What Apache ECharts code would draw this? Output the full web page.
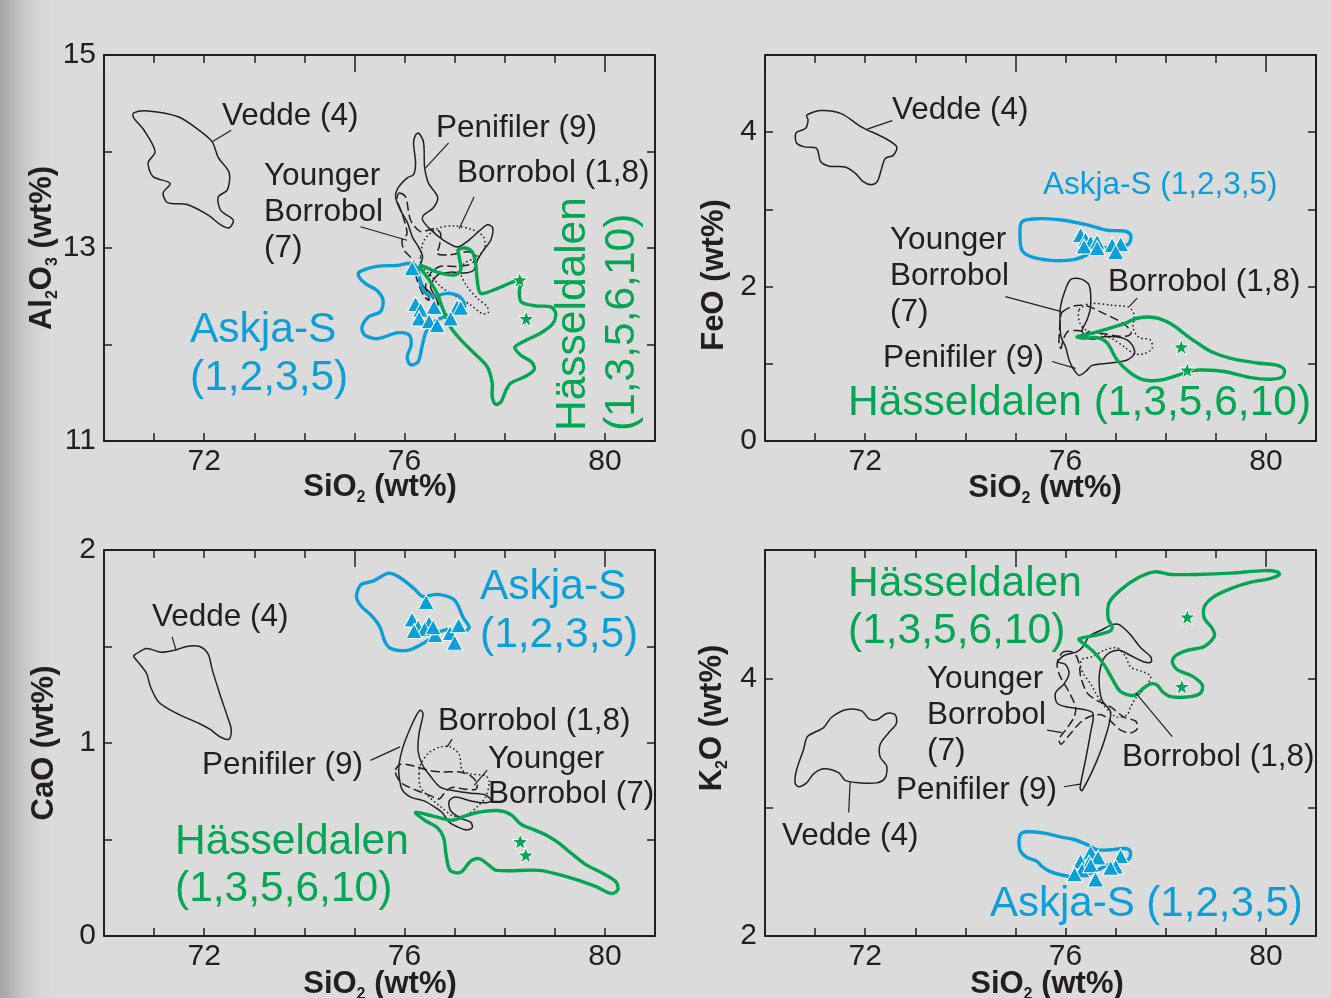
<!DOCTYPE html>
<html>
<head>
<meta charset="utf-8">
<script src="https://cdn.jsdelivr.net/npm/echarts@6.0.0/dist/echarts.min.js"></script>
<style>
  html, body { margin: 0; padding: 0; width: 1331px; height: 998px; overflow: hidden;
    background: linear-gradient(to right, #a6a6a6 0px, #b2b2b2 10px, #c8c8c8 24px, #d5d5d5 38px, #dbdbdb 52px, #dbdbdb 100%); }
  #chart { width: 1331px; height: 998px; }
</style>
</head>
<body>
<div id="chart"></div>
<script>
// ---- tick labels ----
const siTicks = [72, 76, 80];
const alTicks = [11, 13, 15];
const feTicks = [0, 2, 4];
const caTicks = [0, 1, 2];
const kTicks = [2, 4];

// ---- Al2O3 vs SiO2 (wt%) ----
const alVedde = [[70.59,14.40],[70.88,14.42],[71.48,14.36],[71.90,14.22],[72.16,14.10],[72.28,13.94],[72.50,13.78],[72.46,13.60],[72.28,13.53],[72.33,13.39],[72.58,13.29],[72.50,13.21],[72.33,13.24],[72.08,13.34],[71.66,13.45],[71.27,13.47],[71.18,13.57],[71.32,13.67],[70.98,13.74],[70.88,13.88],[71.02,14.00],[70.80,14.22],[70.59,14.35]];
const alPenifiler = [[76.28,14.19],[76.38,14.09],[76.40,13.84],[76.48,13.67],[76.66,13.53],[76.58,13.42],[76.38,13.34],[76.36,13.29],[76.52,13.19],[76.78,13.08],[77.06,13.01],[77.28,13.08],[77.52,13.19],[77.66,13.24],[77.76,13.21],[77.72,13.08],[77.58,12.98],[77.46,12.88],[77.38,12.77],[77.18,12.74],[76.92,12.75],[76.66,12.72],[76.52,12.60],[76.62,12.49],[76.68,12.41],[76.62,12.43],[76.52,12.53],[76.38,12.60],[76.32,12.67],[76.28,12.77],[76.36,12.91],[76.28,13.01],[76.16,13.11],[76.06,13.26],[75.92,13.39],[75.82,13.53],[75.88,13.63],[76.06,13.73],[76.18,13.76],[76.22,13.88],[76.18,14.09],[76.22,14.17]];
const alYounger = [[75.89,13.57],[76.02,13.53],[76.12,13.29],[76.32,13.17],[76.59,13.20],[76.72,13.15],[76.69,13.01],[76.65,12.94],[76.92,12.93],[77.25,12.96],[77.42,12.93],[77.35,12.84],[77.05,12.81],[76.72,12.81],[76.52,12.74],[76.42,12.60],[76.49,12.46],[76.39,12.50],[76.25,12.67],[76.15,12.88],[75.99,12.98],[75.95,13.08],[76.05,13.15],[75.95,13.36],[75.85,13.50]];
const alBorrobol = [[76.32,12.91],[76.39,13.08],[76.65,13.20],[76.99,13.23],[77.35,13.19],[77.57,13.12],[77.60,13.00],[77.45,12.91],[77.19,12.84],[77.12,12.74],[77.25,12.60],[77.45,12.48],[77.65,12.39],[77.67,12.33],[77.55,12.32],[77.32,12.41],[76.99,12.51],[76.72,12.60],[76.55,12.70],[76.35,12.81]];
const alAskja = [[75.09,12.75],[75.45,12.81],[75.85,12.82],[76.15,12.84],[76.27,12.77],[76.31,12.65],[76.39,12.55],[76.55,12.50],[76.85,12.53],[77.09,12.50],[77.20,12.41],[77.13,12.33],[76.85,12.30],[76.55,12.22],[76.42,12.12],[76.35,11.98],[76.27,11.82],[76.12,11.79],[76.05,11.87],[76.13,11.99],[76.09,12.10],[75.85,12.12],[75.45,12.06],[75.20,12.10],[75.15,12.18],[75.29,12.29],[75.52,12.34],[75.57,12.46],[75.45,12.56],[75.22,12.63],[75.09,12.70]];
const alHasseldalen = [[76.32,12.82],[76.65,12.75],[76.99,12.72],[77.12,12.77],[77.09,12.91],[77.07,12.98],[77.20,13.00],[77.35,12.96],[77.42,12.84],[77.45,12.67],[77.52,12.53],[77.85,12.58],[78.12,12.64],[78.29,12.67],[78.32,12.63],[78.29,12.55],[78.33,12.44],[78.62,12.40],[78.92,12.39],[79.02,12.32],[78.95,12.21],[78.72,12.12],[78.37,12.03],[78.20,11.97],[78.32,11.89],[78.55,11.81],[78.59,11.74],[78.42,11.67],[78.12,11.60],[78.02,11.52],[77.93,11.41],[77.82,11.38],[77.75,11.46],[77.75,11.60],[77.65,11.77],[77.39,11.91],[77.12,12.05],[76.92,12.18],[76.75,12.39],[76.65,12.53],[76.49,12.67],[76.35,12.77]];
const alAskjaPts = [[76.15,12.79],[76.22,12.42],[76.32,12.36],[76.59,12.39],[76.29,12.27],[76.49,12.24],[76.65,12.20],[77.05,12.39],[76.92,12.27],[77.12,12.38]];
const alHasselPts = [[78.30,12.67],[78.43,12.27]];
const alLeaders = [[[72.16,14.10],[72.54,14.22]],[[76.42,13.83],[76.88,14.09]],[[75.12,13.22],[76.05,13.08]],[[77.09,13.20],[77.39,13.53]]];

// ---- FeO vs SiO2 (wt%) ----
const feVedde = [[70.83,4.22],[71.11,4.28],[71.52,4.24],[71.92,4.07],[72.40,3.92],[72.63,3.81],[72.56,3.70],[72.40,3.66],[72.32,3.51],[72.24,3.36],[72.12,3.32],[71.96,3.36],[71.80,3.47],[71.60,3.55],[71.28,3.56],[71.11,3.62],[71.03,3.79],[70.79,3.81],[70.63,3.86],[70.62,3.99],[70.81,4.05],[70.86,4.16]];
const feAskja = [[75.13,2.84],[75.50,2.88],[75.97,2.86],[76.43,2.80],[76.83,2.73],[77.17,2.72],[77.30,2.67],[77.27,2.56],[77.13,2.52],[76.77,2.50],[76.50,2.43],[76.17,2.35],[75.70,2.34],[75.30,2.39],[75.13,2.47],[75.09,2.65]];
const feHasseldalen = [[76.23,1.35],[76.50,1.39],[76.77,1.44],[77.17,1.52],[77.43,1.59],[77.77,1.60],[78.10,1.52],[78.37,1.39],[78.63,1.27],[78.90,1.16],[79.30,1.07],[79.83,1.01],[80.23,0.98],[80.37,0.92],[80.33,0.83],[80.10,0.80],[79.70,0.82],[79.17,0.90],[78.77,0.92],[78.50,0.91],[78.23,0.85],[77.90,0.79],[77.57,0.79],[77.30,0.88],[77.03,1.05],[76.83,1.27],[76.63,1.34],[76.37,1.33]];
const fePenifiler = [[76.10,2.09],[76.30,2.10],[76.47,2.02],[76.50,1.74],[76.43,1.57],[76.33,1.42],[76.50,1.32],[76.77,1.35],[77.10,1.34],[77.30,1.27],[77.38,1.14],[77.23,1.05],[76.90,1.01],[76.53,0.98],[76.40,0.90],[76.27,0.85],[76.17,0.92],[76.07,1.05],[76.00,1.22],[75.91,1.35],[75.89,1.52],[75.90,1.74],[75.98,1.93]];
const feYounger = [[75.93,1.67],[76.17,1.75],[76.43,1.75],[76.77,1.65],[77.03,1.57],[77.23,1.48],[77.31,1.40],[77.23,1.36],[77.03,1.36],[76.77,1.39],[76.50,1.40],[76.23,1.43],[76.05,1.42],[75.95,1.31],[75.91,1.20],[75.87,1.24],[75.88,1.44],[75.90,1.60]];
const feBorrobol = [[76.27,1.70],[76.50,1.78],[76.90,1.76],[77.27,1.73],[77.37,1.63],[77.35,1.46],[77.47,1.34],[77.69,1.31],[77.73,1.20],[77.57,1.13],[77.37,1.13],[77.17,1.22],[76.97,1.31],[76.70,1.39],[76.43,1.43],[76.29,1.52]];
const feAskjaPts = [[76.30,2.67],[76.40,2.61],[76.50,2.57],[76.63,2.58],[76.37,2.52],[76.63,2.50],[76.93,2.54],[77.10,2.55],[77.00,2.45]];
const feHasselPts = [[78.31,1.22],[78.43,0.92]];
const feLeaders = [[[72.04,4.04],[72.54,4.15]],[[74.80,1.87],[75.90,1.68]],[[77.27,1.74],[77.43,1.85]],[[75.73,1.03],[76.20,0.94]]];

// ---- CaO vs SiO2 (wt%) ----
const caVedde = [[70.63,1.46],[70.85,1.49],[71.14,1.47],[71.40,1.48],[71.65,1.50],[71.91,1.50],[72.08,1.46],[72.16,1.38],[72.33,1.24],[72.46,1.14],[72.54,1.07],[72.50,1.02],[72.33,1.03],[72.12,1.07],[71.91,1.10],[71.48,1.15],[71.10,1.21],[70.93,1.29],[70.85,1.36],[70.68,1.42],[70.59,1.45]];
const caAskja = [[75.04,1.76],[75.13,1.82],[75.38,1.84],[75.68,1.88],[75.89,1.86],[76.19,1.80],[76.36,1.76],[76.66,1.77],[77.00,1.74],[77.17,1.65],[77.29,1.60],[77.21,1.58],[77.00,1.59],[76.74,1.58],[76.40,1.52],[76.06,1.48],[75.72,1.49],[75.60,1.53],[75.51,1.60],[75.34,1.66],[75.13,1.71]];
const caHasseldalen = [[76.22,0.64],[76.59,0.62],[76.95,0.60],[77.19,0.62],[77.45,0.64],[77.85,0.65],[78.12,0.63],[78.32,0.58],[78.59,0.55],[78.85,0.52],[79.09,0.48],[79.32,0.43],[79.62,0.37],[79.99,0.32],[80.22,0.28],[80.26,0.24],[80.13,0.22],[79.79,0.26],[79.20,0.31],[78.69,0.34],[77.84,0.34],[77.67,0.37],[77.50,0.40],[77.33,0.39],[77.12,0.33],[76.91,0.34],[76.83,0.42],[76.78,0.51],[76.66,0.56],[76.40,0.60]];
const caPenifiler = [[76.32,1.17],[76.37,1.15],[76.29,1.05],[76.27,0.96],[76.35,0.89],[76.51,0.83],[76.72,0.77],[77.05,0.75],[77.32,0.74],[77.62,0.73],[77.73,0.70],[77.59,0.69],[77.32,0.70],[77.02,0.72],[76.89,0.70],[76.92,0.65],[77.12,0.61],[77.32,0.59],[77.35,0.56],[77.22,0.55],[77.02,0.57],[76.89,0.59],[76.75,0.64],[76.59,0.67],[76.39,0.70],[76.12,0.72],[75.95,0.76],[75.89,0.83],[75.89,0.89],[75.97,0.98],[76.12,1.08],[76.25,1.15]];
const caYounger = [[75.82,0.86],[75.92,0.89],[76.19,0.88],[76.45,0.86],[76.75,0.85],[77.09,0.85],[77.32,0.83],[77.45,0.79],[77.42,0.76],[77.22,0.76],[76.95,0.77],[76.82,0.75],[76.69,0.71],[76.49,0.73],[76.19,0.76],[75.95,0.79],[75.84,0.83]];
const caBorrobol = [[76.29,0.84],[76.32,0.89],[76.49,0.95],[76.72,0.98],[76.92,0.98],[77.09,0.94],[77.15,0.86],[77.32,0.84],[77.62,0.83],[77.69,0.80],[77.62,0.72],[77.45,0.67],[77.25,0.63],[76.99,0.62],[76.72,0.67],[76.49,0.72],[76.32,0.77]];
const caAskjaPts = [[76.43,1.73],[76.15,1.64],[76.27,1.60],[76.49,1.62],[76.40,1.59],[76.19,1.58],[76.61,1.56],[76.91,1.57],[77.08,1.61],[77.00,1.52],[76.57,1.60]];
const caHasselPts = [[78.31,0.49],[78.42,0.42]];
const caLeaders = [[[71.44,1.48],[71.36,1.55]],[[75.32,0.91],[75.91,0.98]],[[76.85,0.98],[76.95,1.02]],[[77.65,0.86],[77.39,0.78]]];

// ---- K2O vs SiO2 (wt%) ----
const kHasseldalen = [[76.27,4.31],[76.63,4.34],[76.89,4.37],[76.93,4.40],[76.85,4.47],[76.87,4.59],[77.10,4.69],[77.43,4.78],[77.77,4.83],[78.10,4.81],[78.63,4.81],[79.30,4.82],[79.97,4.84],[80.23,4.83],[80.27,4.81],[80.10,4.78],[79.70,4.75],[79.30,4.70],[78.97,4.64],[78.77,4.56],[78.77,4.47],[78.93,4.39],[78.97,4.33],[78.77,4.25],[78.43,4.22],[78.20,4.18],[78.13,4.13],[78.23,4.07],[78.53,4.02],[78.73,3.95],[78.70,3.89],[78.50,3.86],[78.10,3.86],[77.93,3.90],[77.83,3.95],[77.70,3.96],[77.57,3.93],[77.37,3.87],[77.10,3.90],[76.93,4.00],[76.80,4.09],[76.63,4.18],[76.47,4.24],[76.30,4.29]];
const kPenifiler = [[77.07,4.42],[77.30,4.34],[77.50,4.24],[77.70,4.17],[77.71,4.13],[77.57,4.13],[77.30,4.18],[77.07,4.22],[76.87,4.20],[76.73,4.13],[76.67,3.99],[76.73,3.83],[76.90,3.74],[76.80,3.55],[76.60,3.34],[76.33,3.13],[76.29,3.15],[76.40,3.37],[76.50,3.58],[76.55,3.73],[76.37,3.76],[76.03,3.78],[75.83,3.81],[75.80,3.89],[75.97,3.96],[76.07,4.04],[76.00,4.11],[75.85,4.13],[75.97,4.18],[76.23,4.21],[76.37,4.26],[76.47,4.33],[76.73,4.38],[76.93,4.42]];
const kYounger = [[75.97,4.21],[76.17,4.20],[76.27,4.12],[76.30,4.02],[76.43,3.89],[76.63,3.83],[76.90,3.78],[77.17,3.70],[77.40,3.67],[77.43,3.61],[77.30,3.58],[77.10,3.60],[76.90,3.67],[76.71,3.72],[76.45,3.70],[76.27,3.65],[76.05,3.55],[75.91,3.49],[75.87,3.53],[76.00,3.60],[76.17,3.70],[76.20,3.78],[76.05,3.91],[75.89,4.02],[75.83,4.11],[75.89,4.18]];
const kBorrobol = [[76.30,4.09],[76.33,4.15],[76.53,4.17],[76.77,4.22],[77.03,4.24],[77.20,4.17],[77.30,4.09],[77.57,4.05],[77.70,4.02],[77.63,3.95],[77.50,3.89],[77.40,3.85],[77.30,3.78],[77.23,3.72],[77.03,3.70],[76.89,3.74],[76.73,3.81],[76.60,3.89],[76.50,3.96],[76.37,4.03]];
const kVedde = [[70.60,3.19],[70.63,3.29],[70.77,3.45],[70.85,3.55],[71.17,3.62],[71.33,3.70],[71.63,3.76],[71.93,3.75],[72.07,3.69],[72.23,3.68],[72.43,3.73],[72.60,3.72],[72.62,3.65],[72.47,3.58],[72.30,3.49],[72.30,3.39],[72.43,3.32],[72.40,3.23],[72.23,3.19],[71.90,3.19],[71.60,3.21],[71.47,3.27],[71.17,3.30],[70.97,3.26],[70.83,3.19],[70.67,3.16]];
const kAskja = [[75.07,2.72],[75.10,2.79],[75.23,2.81],[75.57,2.80],[75.90,2.77],[76.17,2.75],[76.43,2.71],[76.63,2.67],[76.90,2.67],[77.17,2.68],[77.29,2.66],[77.27,2.60],[77.10,2.58],[76.83,2.55],[76.63,2.51],[76.37,2.47],[76.17,2.46],[75.97,2.47],[75.70,2.50],[75.53,2.54],[75.43,2.58],[75.23,2.61],[75.10,2.66]];
const kAskjaPts = [[76.50,2.65],[76.65,2.61],[76.30,2.58],[76.47,2.57],[76.33,2.51],[76.18,2.48],[76.50,2.55],[76.60,2.44],[77.10,2.62],[77.00,2.54],[76.90,2.53]];
const kHasselPts = [[78.43,4.48],[78.32,3.94]];
const kLeaders = [[[71.70,3.20],[71.67,2.96]],[[75.97,3.16],[76.29,3.18]],[[75.63,3.60],[75.93,3.58]],[[77.40,3.89],[78.13,3.55]]];

// ---- styling ----
const BLACK = '#231f20';
const BLUE = '#0a9fd9';
const GREEN = '#00a651';
const FONT = "'Liberation Sans', Arial, Helvetica, sans-serif";
const DASHED = [9, 4];
const DOTTED = [1.6, 2.6];

const panels = [
  { left: 104, top: 55,  yMin: 11, yMax: 15, yStep: 1,   yLabels: alTicks },
  { left: 765, top: 55,  yMin: 0,  yMax: 5,  yStep: 1,   yLabels: feTicks },
  { left: 104, top: 550, yMin: 0,  yMax: 2,  yStep: 0.5, yLabels: caTicks },
  { left: 765, top: 550, yMin: 2,  yMax: 5,  yStep: 1,   yLabels: kTicks }
];
const PW = 551, PH = 386;

const grids = [], xAxes = [], yAxes = [];
const frameLine = { onZero: false, lineStyle: { color: BLACK, width: 2 } };
const tickStyle = { color: BLACK, width: 1.5 };
const tickFont = { fontSize: 30, color: BLACK, fontFamily: FONT };

panels.forEach(p => grids.push({ left: p.left, top: p.top, width: PW, height: PH }));
// overlay grids that carry the longer top ticks at every 5 wt%
panels.forEach(p => grids.push({ left: p.left, top: p.top, width: PW, height: PH }));

panels.forEach((p, i) => {
  xAxes.push({ type: 'value', gridIndex: i, position: 'bottom', min: 70, max: 81, interval: 1,
    axisLine: frameLine, splitLine: { show: false },
    axisTick: { inside: true, length: 8, lineStyle: tickStyle },
    axisLabel: Object.assign({ margin: 6, formatter: v => siTicks.includes(v) ? String(v) : '' }, tickFont) });
  xAxes.push({ type: 'value', gridIndex: i, position: 'top', min: 70, max: 81, interval: 1,
    axisLine: frameLine, splitLine: { show: false },
    axisTick: { inside: true, length: 8, lineStyle: tickStyle }, axisLabel: { show: false } });
  xAxes.push({ type: 'value', gridIndex: 4 + i, position: 'top', min: 70, max: 81, interval: 5,
    axisLine: { show: false, onZero: false }, splitLine: { show: false },
    axisTick: { inside: true, length: 17, lineStyle: tickStyle }, axisLabel: { show: false } });

  yAxes.push({ type: 'value', gridIndex: i, position: 'left', min: p.yMin, max: p.yMax, interval: p.yStep,
    axisLine: frameLine, splitLine: { show: false },
    axisTick: { inside: true, length: 8, lineStyle: tickStyle },
    axisLabel: Object.assign({ margin: 8, formatter: v => p.yLabels.includes(v) ? String(v) : '' }, tickFont) });
  yAxes.push({ type: 'value', gridIndex: i, position: 'right', min: p.yMin, max: p.yMax, interval: p.yStep,
    axisLine: frameLine, splitLine: { show: false },
    axisTick: { inside: true, length: 8, lineStyle: tickStyle }, axisLabel: { show: false } });
  yAxes.push({ type: 'value', gridIndex: 4 + i, show: false, min: 0, max: 1 });
});

// closed, smoothed envelope drawn through the panel's axes
function envelope(panel, pts, color, width, dash) {
  return {
    type: 'custom', coordinateSystem: 'cartesian2d',
    xAxisIndex: panel * 3, yAxisIndex: panel * 3,
    data: [pts[0]], silent: true, clip: false, z: 3,
    renderItem: (params, api) => ({
      type: 'polygon',
      shape: { points: pts.map(pt => api.coord(pt)), smooth: 0.3 },
      style: { fill: 'none', stroke: color, lineWidth: width, lineDash: dash || null, lineJoin: 'round' }
    })
  };
}

const STAR = 'path://M0,-10L2.35,-3.24L9.51,-3.09L3.8,1.24L5.88,8.09L0,4L-5.88,8.09L-3.8,1.24L-9.51,-3.09L-2.35,-3.24Z';

function points(panel, pts, symbol, color, size) {
  return { type: 'scatter', xAxisIndex: panel * 3, yAxisIndex: panel * 3, data: pts,
    symbol: symbol, symbolSize: size, silent: true, z: 6,
    itemStyle: { color: color, borderColor: '#ffffff', borderWidth: 1, opacity: 1 } };
}

function leaders(panel, segs) {
  return segs.map(seg => ({ type: 'line', xAxisIndex: panel * 3, yAxisIndex: panel * 3, data: seg,
    symbol: 'none', silent: true, z: 4, lineStyle: { color: BLACK, width: 1.2 } }));
}

function panelSeries(panel, d) {
  return [
    envelope(panel, d.vedde, BLACK, 1.5),
    envelope(panel, d.penifiler, BLACK, 1.5),
    envelope(panel, d.younger, BLACK, 1.5, DASHED),
    envelope(panel, d.borrobol, BLACK, 1.5, DOTTED),
    envelope(panel, d.askja, BLUE, 3.4),
    envelope(panel, d.hasseldalen, GREEN, 3.4),
    points(panel, d.askjaPts, 'triangle', BLUE, [16, 15]),
    points(panel, d.hasselPts, STAR, GREEN, 16)
  ].concat(leaders(panel, d.leaders));
}

const series = [].concat(
  panelSeries(0, { vedde: alVedde, penifiler: alPenifiler, younger: alYounger, borrobol: alBorrobol,
    askja: alAskja, hasseldalen: alHasseldalen, askjaPts: alAskjaPts, hasselPts: alHasselPts, leaders: alLeaders }),
  panelSeries(1, { vedde: feVedde, penifiler: fePenifiler, younger: feYounger, borrobol: feBorrobol,
    askja: feAskja, hasseldalen: feHasseldalen, askjaPts: feAskjaPts, hasselPts: feHasselPts, leaders: feLeaders }),
  panelSeries(2, { vedde: caVedde, penifiler: caPenifiler, younger: caYounger, borrobol: caBorrobol,
    askja: caAskja, hasseldalen: caHasseldalen, askjaPts: caAskjaPts, hasselPts: caHasselPts, leaders: caLeaders }),
  panelSeries(3, { vedde: kVedde, penifiler: kPenifiler, younger: kYounger, borrobol: kBorrobol,
    askja: kAskja, hasseldalen: kHasseldalen, askjaPts: kAskjaPts, hasselPts: kHasselPts, leaders: kLeaders })
);

// ---- text ----
function text(x, y, str, extra) {
  return { type: 'text', x: x, y: y, silent: true, z: 100,
    style: Object.assign({ text: str, fill: BLACK, fontSize: 31.5, fontFamily: FONT,
      align: 'left', verticalAlign: 'middle', textAlign: 'left', textVerticalAlign: 'middle' }, extra || {}) };
}
const big = (color, lh) => ({ fill: color, fontSize: 42.5, lineHeight: lh || 48 });

const nameRich = {
  b: { fontSize: 31, fontWeight: 'bold', fontFamily: FONT, fill: BLACK, lineHeight: 31, verticalAlign: 'top' },
  s: { fontSize: 16, fontWeight: 'bold', fontFamily: FONT, fill: BLACK, lineHeight: 34, verticalAlign: 'bottom' }
};
function axisName(x, y, str, rotated) {
  const el = text(x, y, str, { rich: nameRich, align: 'center', textAlign: 'center' });
  if (rotated) el.rotation = Math.PI / 2;
  return el;
}
const siName = '{b|SiO}{s|2}{b| (wt%)}';

const graphics = [
  // Al2O3 panel
  text(222, 116, 'Vedde (4)'),
  text(436, 128, 'Penifiler (9)'),
  text(264, 212, 'Younger\nBorrobol\n(7)', { lineHeight: 36 }),
  text(457, 173, 'Borrobol (1,8)'),
  text(190, 354, 'Askja-S\n(1,2,3,5)', big(BLUE)),
  Object.assign(text(573, 431, 'Hässeldalen', { fill: GREEN, fontSize: 42.5 }), { rotation: Math.PI / 2 }),
  Object.assign(text(622, 431, '(1,3,5,6,10)', { fill: GREEN, fontSize: 42.5 }), { rotation: Math.PI / 2 }),
  // FeO panel
  text(892, 110, 'Vedde (4)'),
  text(1043, 185, 'Askja-S (1,2,3,5)', { fill: BLUE, fontSize: 31.5 }),
  text(890, 276, 'Younger\nBorrobol\n(7)', { lineHeight: 36 }),
  text(1108, 282, 'Borrobol (1,8)'),
  text(883, 358, 'Penifiler (9)'),
  text(848, 403, 'Hässeldalen (1,3,5,6,10)', { fill: GREEN, fontSize: 42.5 }),
  // CaO panel
  text(152, 617, 'Vedde (4)'),
  text(480, 611, 'Askja-S\n(1,2,3,5)', big(BLUE)),
  text(438, 721, 'Borrobol (1,8)'),
  text(202, 765, 'Penifiler (9)'),
  text(488, 777, 'Younger\nBorrobol (7)', { lineHeight: 35 }),
  text(175, 866, 'Hässeldalen\n(1,3,5,6,10)', big(GREEN, 47)),
  // K2O panel
  text(848, 608, 'Hässeldalen\n(1,3,5,6,10)', big(GREEN, 47)),
  text(927, 715, 'Younger\nBorrobol\n(7)', { lineHeight: 36 }),
  text(1122, 757, 'Borrobol (1,8)'),
  text(896, 790, 'Penifiler (9)'),
  text(782, 836, 'Vedde (4)'),
  text(990, 904, 'Askja-S (1,2,3,5)', { fill: BLUE, fontSize: 42 }),
  // axis titles
  axisName(380, 489, siName),
  axisName(1045, 490, siName),
  axisName(380, 986, siName),
  axisName(1047, 986, siName),
  axisName(44, 248, '{b|Al}{s|2}{b|O}{s|3}{b| (wt%)}', true),
  axisName(714, 275, '{b|FeO (wt%)}', true),
  axisName(44, 743, '{b|CaO (wt%)}', true),
  axisName(714, 718, '{b|K}{s|2}{b|O (wt%)}', true)
];

const chart = echarts.init(document.getElementById('chart'), null, { renderer: 'canvas' });
chart.setOption({
  animation: false,
  backgroundColor: 'transparent',
  textStyle: { fontFamily: FONT },
  grid: grids,
  xAxis: xAxes,
  yAxis: yAxes,
  series: series,
  graphic: graphics
});
</script>
</body>
</html>
